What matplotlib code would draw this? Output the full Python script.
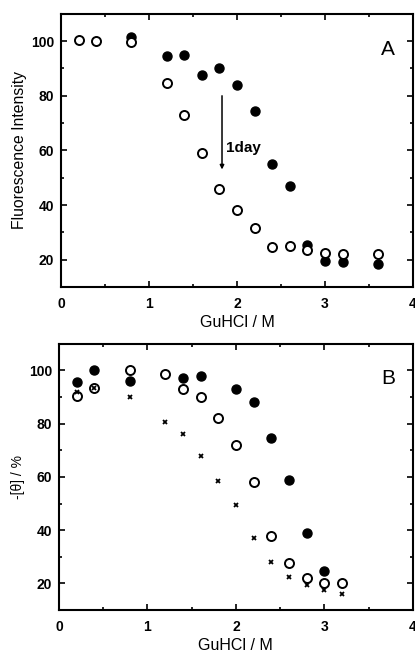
import numpy as np
import matplotlib
matplotlib.use('Agg')
import matplotlib.pyplot as plt
from matplotlib.ticker import MultipleLocator

plt.rcParams['font.family'] = ['Liberation Sans', 'DejaVu Sans']

# panel A: fluorescence
a_fill_x = [0.8, 1.2, 1.4, 1.6, 1.8, 2.0, 2.2, 2.4, 2.6, 2.8, 3.0, 3.2, 3.6]
a_fill_y = [101.5, 94.5, 95, 87.5, 90, 84, 74.5, 55, 47, 25.5, 19.5, 19, 18.5]
a_open_x = [0.2, 0.4, 0.8, 1.2, 1.4, 1.6, 1.8, 2.0, 2.2, 2.4, 2.6, 2.8, 3.0, 3.2, 3.6]
a_open_y = [100.5, 100, 99.5, 84.5, 73, 59, 46, 38, 31.5, 24.5, 25, 23.5, 22.5, 22, 22]

# panel B: ellipticity
b_fill_x = [0.2, 0.4, 0.8, 1.4, 1.6, 2.0, 2.2, 2.4, 2.6, 2.8, 3.0]
b_fill_y = [95.5, 100, 96, 97, 98, 93, 88, 74.5, 59, 39, 24.5]
b_open_x = [0.2, 0.4, 0.8, 1.2, 1.4, 1.6, 1.8, 2.0, 2.2, 2.4, 2.6, 2.8, 3.0, 3.2]
b_open_y = [90.5, 93.5, 100, 98.5, 93, 90, 82, 72, 58, 38, 27.5, 22, 20, 20]
b_x_x = [0.2, 0.4, 0.8, 1.2, 1.4, 1.6, 1.8, 2.0, 2.2, 2.4, 2.6, 2.8, 3.0, 3.2]
b_x_y = [92, 93.5, 90, 80.5, 76, 68, 58.5, 49.5, 37, 28, 22.5, 19.5, 17.5, 16]

fig = plt.figure(figsize=(4.15, 6.56), dpi=100)
axA = fig.add_axes([0.147, 0.5625, 0.848, 0.4165])
axB = fig.add_axes([0.142, 0.070, 0.853, 0.406])


def style(ax, ylab, ysize):
    ax.set_xlim(0, 4)
    ax.set_ylim(10, 110)
    ax.xaxis.set_major_locator(MultipleLocator(1))
    ax.xaxis.set_minor_locator(MultipleLocator(0.5))
    ax.yaxis.set_minor_locator(MultipleLocator(10))
    ax.set_yticks([20, 40, 60, 80, 100])
    ax.tick_params(which='both', direction='in', top=True, right=True, width=1.2)
    ax.tick_params(which='major', length=4, labelsize=10)
    ax.tick_params(axis='x', which='major', pad=7)
    ax.tick_params(axis='y', which='major', pad=5)
    ax.tick_params(which='minor', length=2)
    for lab in ax.get_xticklabels() + ax.get_yticklabels():
        lab.set_fontweight('bold')
    for s in ax.spines.values():
        s.set_linewidth(1.5)
    ax.set_xlabel('GuHCl / M', fontsize=11.5, labelpad=3)
    ax.set_ylabel(ylab, fontsize=ysize, labelpad=3)


ms = 6.5
axA.plot(a_fill_x, a_fill_y, 'o', color='black', ms=ms, ls='none')
axA.plot(a_open_x, a_open_y, 'o', mfc='white', mec='black', mew=1.4, ms=ms, ls='none')
axA.annotate('', xy=(1.83, 52), xytext=(1.83, 81),
             arrowprops=dict(arrowstyle='-|>', color='black', lw=1.1, mutation_scale=6))
axA.text(1.87, 61, '1day', fontsize=11, fontweight='bold', va='center')
axA.text(0.93, 0.87, 'A', transform=axA.transAxes, fontsize=15, ha='center', va='center')
style(axA, 'Fluorescence Intensity', 11.3)

axB.plot(b_fill_x, b_fill_y, 'o', color='black', ms=ms, ls='none')
axB.plot(b_open_x, b_open_y, 'o', mfc='white', mec='black', mew=1.4, ms=ms, ls='none')
axB.plot(b_x_x, b_x_y, 'x', color='black', ms=3.5, mew=1.3, ls='none')
axB.text(0.93, 0.87, 'B', transform=axB.transAxes, fontsize=15, ha='center', va='center')
style(axB, '-[θ] / %', 10)

fig.savefig('out.png', dpi=100)
